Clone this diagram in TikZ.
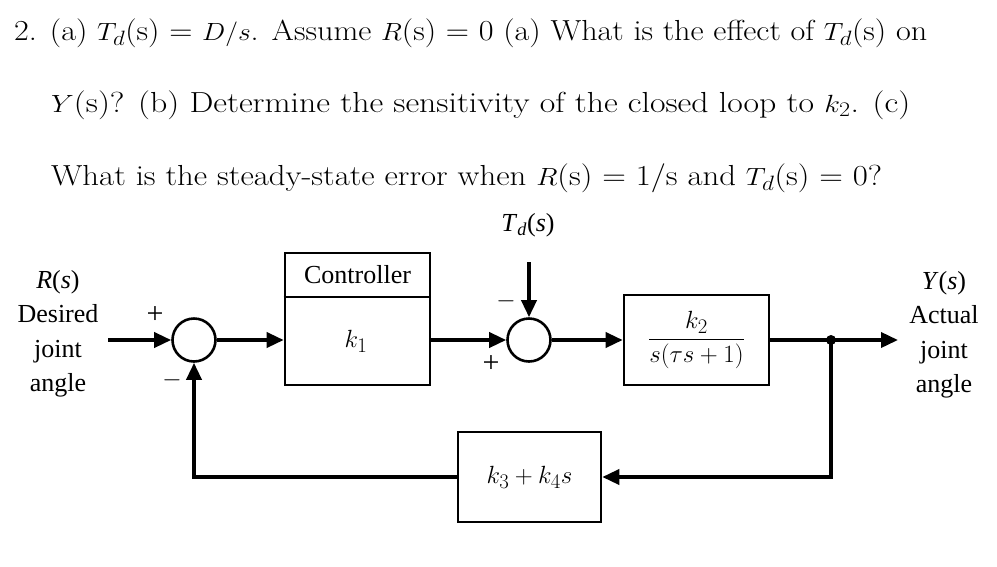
\documentclass[tikz,border=0pt]{standalone}
\usepackage{fontspec}
\newfontfamily\diagfont{Liberation Serif}
\usetikzlibrary{arrows.meta}
\begin{document}
\begin{tikzpicture}[x=1pt,y=-1pt,
 line/.style={line width=3.6pt},
 arr/.style={line, -{Triangle[length=17pt,width=15pt]}},
 blk/.style={draw, line width=2.6pt, inner sep=0pt, rectangle},
 sumnode/.style={circle, draw, line width=2.6pt, minimum size=43pt, inner sep=0pt},
 lab/.style={font=\diagfont\fontsize{26}{34.5}\selectfont, align=center, inner sep=0pt},
 sign/.style={font=\diagfont\fontsize{30}{32}\selectfont, inner sep=0pt},
 qtitle/.style={font=\fontsize{29}{34}\selectfont, anchor=base west, inner sep=0pt}]
\useasboundingbox (0,0) rectangle (997,566);
% title
\node[qtitle] (t1) at (14,40) {\scalebox{1.109}[1]{2. (a) $T_d$(s) = $D/s$. Assume $R$(s) = 0 (a) What is the effect of $T_d$(s) on}};
\node[qtitle] (t2) at (51,112) {\scalebox{1.164}[1]{$Y$(s)? (b) Determine the sensitivity of the closed loop to $k_2$. (c)}};
\node[qtitle] (t3) at (51,185) {\scalebox{1.13}[1]{What is the steady-state error when $R$(s) = 1/s and $T_d$(s) = 0?}};
% blocks
\node[sumnode] (s1) at (194,340) {};
\node[sumnode] (s2) at (529,340) {};
\node[blk, minimum width=145pt, minimum height=132pt] (ctrl) at (357.5,319) {};
\coordinate (divy) at (0,297);
\draw[line width=2.6pt] (ctrl.west |- divy) -- (ctrl.east |- divy);
\node[lab] (ctxt) at (357.5,275) {Controller};
\node[lab, font=\fontsize{30}{34}\selectfont] (k1) at (356,341) {$k_1$};
\node[blk, minimum width=145pt, minimum height=90pt, font=\fontsize{28}{32}\selectfont] (G) at (696.5,340) {$\displaystyle\frac{k_2}{s(\tau s+1)}$};
\node[blk, minimum width=143pt, minimum height=90pt, font=\fontsize{28}{32}\selectfont] (H) at (529.5,477) {$k_3+k_4s$};
% labels
\node[lab] (rlab) at (58,334) {\textit{R}(\textit{s})\\Desired\\joint\\angle};
\node[lab] (ylab) at (944,335) {\textit{Y}(\textit{s})\\Actual\\joint\\angle};
\node[lab] (tdlab) at (528,225) {\textit{T}\textsubscript{\textit{d}}(\textit{s})};
\node[sign] (p1) at (155,315) {+};
\node[sign] (m1) at (172,380) {$-$};
\node[sign] (p2) at (491,364) {+};
\node[sign] (m2) at (506,301) {$-$};
% connectors
\coordinate (rin) at (108,340);
\coordinate (tdtop) at (529,262);
\coordinate (yout) at (898,340);
\coordinate (j) at (831,340);
\draw[arr] (rin) -- (s1.west);
\draw[arr] (s1.east) -- (s1.east -| ctrl.west);
\draw[arr] (ctrl.east |- s2) -- (s2.west);
\draw[arr] (tdtop) -- (s2.north);
\draw[arr] (s2.east) -- (G.west);
\draw[arr] (G.east) -- (yout);
\fill (j) circle (5pt);
\draw[arr] (j) |- (H.east);
\draw[arr] (H.west) -| (s1.south);
\end{tikzpicture}
\end{document}
